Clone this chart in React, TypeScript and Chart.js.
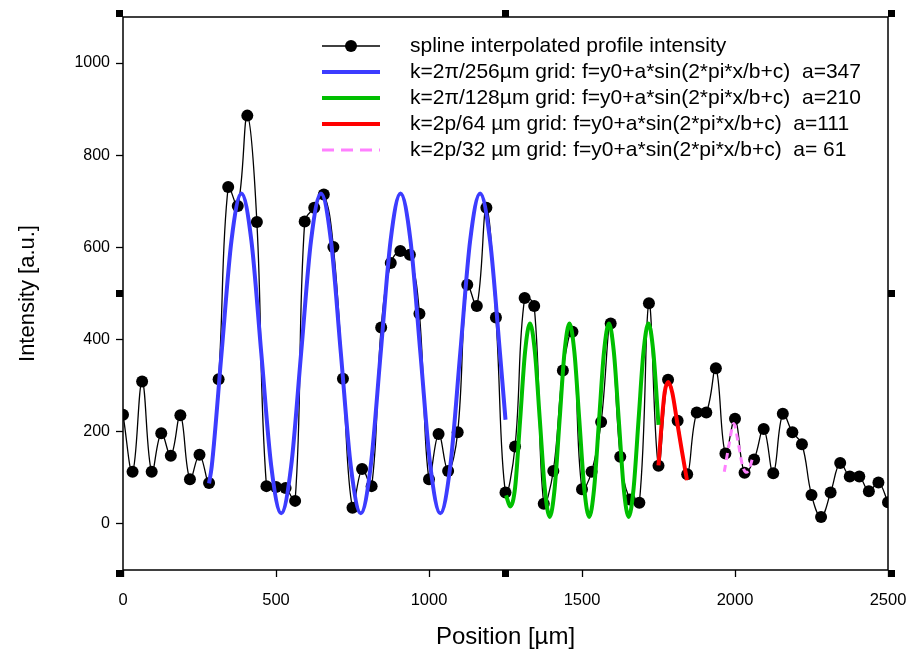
import React, { useEffect, useRef } from "react";
import { Chart, registerables } from "chart.js";

Chart.register(...registerables);

// Profile sample positions (µm) and intensities (a.u.)
const positions = [
  0, 31.25, 62.5, 93.75, 125, 156.25, 187.5, 218.75, 250, 281.25,
  312.5, 343.75, 375, 406.25, 437.5, 468.75, 500, 531.25, 562.5, 593.75,
  625, 656.25, 687.5, 718.75, 750, 781.25, 812.5, 843.75, 875, 906.25,
  937.5, 968.75, 1000, 1031.25, 1062.5, 1093.75, 1125, 1156.25, 1187.5, 1218.75,
  1250, 1281.25, 1312.5, 1343.75, 1375, 1406.25, 1437.5, 1468.75, 1500, 1531.25,
  1562.5, 1593.75, 1625, 1656.25, 1687.5, 1718.75, 1750, 1781.25, 1812.5, 1843.75,
  1875, 1906.25, 1937.5, 1968.75, 2000, 2031.25, 2062.5, 2093.75, 2125, 2156.25,
  2187.5, 2218.75, 2250, 2281.25, 2312.5, 2343.75, 2375, 2406.25, 2437.5, 2468.75,
  2500,
];
const intensity = [
  237, 113, 309, 113, 197, 148, 236, 97, 150, 89,
  314, 731, 690, 886, 655, 82, 80, 78, 50, 656,
  686, 715, 601, 315, 35, 119, 82, 426, 566, 592,
  584, 456, 97, 195, 115, 199, 519, 473, 686, 448,
  68, 168, 490, 473, 44, 115, 333, 417, 75, 113,
  221, 435, 146, 53, 46, 479, 126, 313, 224, 108,
  242, 242, 338, 153, 228, 111, 140, 206, 110, 239,
  199, 173, 63, 15, 68, 132, 103, 103, 71, 90,
  47,
];

// Fitted curve k=2π/256µm
const blueX = [
  281.25, 290, 322, 354.5, 387, 419.5, 452, 484.5, 517, 549.5,
  582, 614.5, 647, 679.5, 712, 744.5, 777, 809.5, 842, 874.5,
  907, 939.5, 972, 1004.5, 1037, 1069.5, 1102, 1134.5, 1167, 1199.5,
  1232, 1250,
];
const blueY = [
  88, 125, 370, 615, 717, 615, 370, 125, 23, 125,
  370, 615, 717, 615, 370, 125, 23, 125, 370, 615,
  717, 615, 370, 125, 23, 125, 370, 615, 717, 615,
  370, 226,
];

// Fitted curve k=2π/128µm
const greenX = [
  1252, 1265.5, 1281.6, 1297.75, 1313.9, 1330, 1346.1, 1362.25, 1378.4, 1394.5,
  1410.6, 1426.75, 1442.9, 1459, 1475.1, 1491.25, 1507.4, 1523.5, 1539.6, 1555.75,
  1571.9, 1588, 1604.1, 1620.25, 1636.4, 1652.5, 1668.6, 1684.75, 1700.9, 1717,
  1733.1, 1750,
];
const greenY = [
  62, 38, 80, 225, 373, 435, 373, 225, 77, 15,
  77, 225, 373, 435, 373, 225, 77, 15, 77, 225,
  373, 435, 373, 225, 77, 15, 77, 225, 373, 435,
  373, 215,
];

// Fitted curve k=2p/64 µm
const redX = [1750, 1760, 1770, 1782, 1795, 1810, 1826, 1843];
const redY = [127, 215, 285, 308, 285, 225, 160, 95];

// Fitted curve k=2p/32 µm
const pinkX = [1965, 1980, 1996, 2010, 2024, 2036, 2046, 2057];
const pinkY = [113, 170, 218, 178, 128, 112, 118, 142];

const xTickValues = [0, 500, 1000, 1500, 2000, 2500];
const yTickValues = [0, 200, 400, 600, 800, 1000];

const legendLabels = [
  "spline interpolated profile intensity",
  "k=2\u03c0/256\u00b5m grid: f=y0+a*sin(2*pi*x/b+c)  a=347",
  "k=2\u03c0/128\u00b5m grid: f=y0+a*sin(2*pi*x/b+c)  a=210",
  "k=2p/64 \u00b5m grid: f=y0+a*sin(2*pi*x/b+c)  a=111",
  "k=2p/32 \u00b5m grid: f=y0+a*sin(2*pi*x/b+c)  a= 61",
];

const BLUE = "#3c3cff";
const GREEN = "#00bf00";
const RED = "#ff0000";
const PINK = "#ff80ff";
const FONT = "'Liberation Sans', Arial, sans-serif";

const zip = (xs: number[], ys: number[]) => xs.map((x, i) => ({ x, y: ys[i] }));

const framePlugin = {
  id: "frame",
  afterDatasetsDraw(chart: any) {
    const { ctx, chartArea } = chart;
    const { left, right, top, bottom } = chartArea;
    ctx.save();
    ctx.strokeStyle = "#000";
    ctx.lineWidth = 1.5;
    ctx.strokeRect(left, top, right - left, bottom - top);

    // selection handles
    const s = 7;
    const mx = (left + right) / 2;
    const my = (top + bottom) / 2;
    ctx.fillStyle = "#000";
    const handles = [
      [left - s, top - s], [mx - s / 2, top - s], [right, top - s],
      [left - s, my - s / 2], [right, my - s / 2],
      [left - s, bottom], [mx - s / 2, bottom], [right, bottom],
    ];
    handles.forEach(([x, y]) => ctx.fillRect(x, y, s, s));

    // legend
    const rows = [46, 72, 98, 124, 150];
    const lx0 = 322;
    const lx1 = 380;
    const tx = 410;
    const styles = [
      { c: "#000", w: 1.3, dash: [] as number[] },
      { c: BLUE, w: 4, dash: [] },
      { c: GREEN, w: 4, dash: [] },
      { c: RED, w: 4, dash: [] },
      { c: PINK, w: 3, dash: [12, 7] },
    ];
    ctx.font = `21px ${FONT}`;
    ctx.textBaseline = "middle";
    ctx.textAlign = "left";
    rows.forEach((y, i) => {
      const st = styles[i];
      ctx.beginPath();
      ctx.strokeStyle = st.c;
      ctx.lineWidth = st.w;
      ctx.setLineDash(st.dash);
      ctx.moveTo(lx0, y);
      ctx.lineTo(lx1, y);
      ctx.stroke();
      ctx.setLineDash([]);
      if (i === 0) {
        ctx.beginPath();
        ctx.fillStyle = "#000";
        ctx.arc((lx0 + lx1) / 2, y, 6, 0, Math.PI * 2);
        ctx.fill();
      }
      ctx.fillStyle = "#000";
      ctx.fillText(legendLabels[i], tx, y);
    });
    ctx.restore();
  },
};

export default function App() {
  const ref = useRef<HTMLCanvasElement | null>(null);

  useEffect(() => {
    if (!ref.current) return;
    const chart = new Chart(ref.current, {
      type: "line",
      data: {
        datasets: [
          {
            label: legendLabels[0],
            data: zip(positions, intensity),
            borderColor: "#000",
            backgroundColor: "#000",
            borderWidth: 1.3,
            pointRadius: 6,
            pointBorderWidth: 0,
            pointBackgroundColor: "#000",
            tension: 0.4,
            order: 5,
          },
          {
            label: legendLabels[1],
            data: zip(blueX, blueY),
            borderColor: BLUE,
            borderWidth: 4,
            pointRadius: 0,
            cubicInterpolationMode: "monotone",
            order: 1,
          },
          {
            label: legendLabels[2],
            data: zip(greenX, greenY),
            borderColor: GREEN,
            borderWidth: 4,
            pointRadius: 0,
            cubicInterpolationMode: "monotone",
            order: 1,
          },
          {
            label: legendLabels[3],
            data: zip(redX, redY),
            borderColor: RED,
            borderWidth: 4,
            pointRadius: 0,
            cubicInterpolationMode: "monotone",
            order: 1,
          },
          {
            label: legendLabels[4],
            data: zip(pinkX, pinkY),
            borderColor: PINK,
            borderWidth: 3,
            borderDash: [7, 5],
            pointRadius: 0,
            cubicInterpolationMode: "monotone",
            order: 1,
          },
        ],
      },
      options: {
        responsive: false,
        animation: false,
        layout: { padding: { top: 17, right: 23, left: 0, bottom: 0 } },
        plugins: {
          legend: { display: false },
          tooltip: { enabled: false },
        },
        scales: {
          x: {
            type: "linear",
            min: 0,
            max: 2500,
            afterBuildTicks: (scale: any) => {
              scale.ticks = xTickValues.map((v) => ({ value: v }));
            },
            afterFit: (scale: any) => {
              scale.height = 91;
              scale.paddingLeft = 0;
              scale.paddingRight = 0;
            },
            grid: {
              drawOnChartArea: false,
              drawTicks: true,
              tickLength: 7,
              tickWidth: 1.3,
              tickColor: "#000",
            },
            border: { display: false },
            ticks: {
              color: "#000",
              font: { family: FONT, size: 16.5 },
              padding: 14,
              maxRotation: 0,
              callback: (v: any) => String(v),
            },
            title: {
              display: true,
              text: "Position [\u00b5m]",
              color: "#000",
              font: { family: FONT, size: 24 },
              padding: { top: 0, bottom: 9 },
            },
          },
          y: {
            type: "linear",
            min: -100,
            max: 1100,
            afterBuildTicks: (scale: any) => {
              scale.ticks = yTickValues.map((v) => ({ value: v }));
            },
            afterFit: (scale: any) => {
              scale.width = 123;
              scale.paddingTop = 0;
              scale.paddingBottom = 0;
            },
            grid: {
              drawOnChartArea: false,
              drawTicks: true,
              tickLength: 7,
              tickWidth: 1.3,
              tickColor: "#000",
            },
            border: { display: false },
            ticks: {
              color: "#000",
              font: { family: FONT, size: 16 },
              padding: 6,
              callback: (v: any) => String(v),
            },
            title: {
              display: true,
              text: "Intensity [a.u.]",
              color: "#000",
              font: { family: FONT, size: 22 },
              padding: { top: 15, bottom: 0 },
            },
          },
        },
      },
      plugins: [framePlugin],
    });
    return () => chart.destroy();
  }, []);

  return (
    <div style={{ position: "fixed", left: 0, top: 0, width: 911, height: 661, background: "#fff" }}>
      <canvas ref={ref} width={911} height={661} style={{ width: 911, height: 661 }} />
    </div>
  );
}
